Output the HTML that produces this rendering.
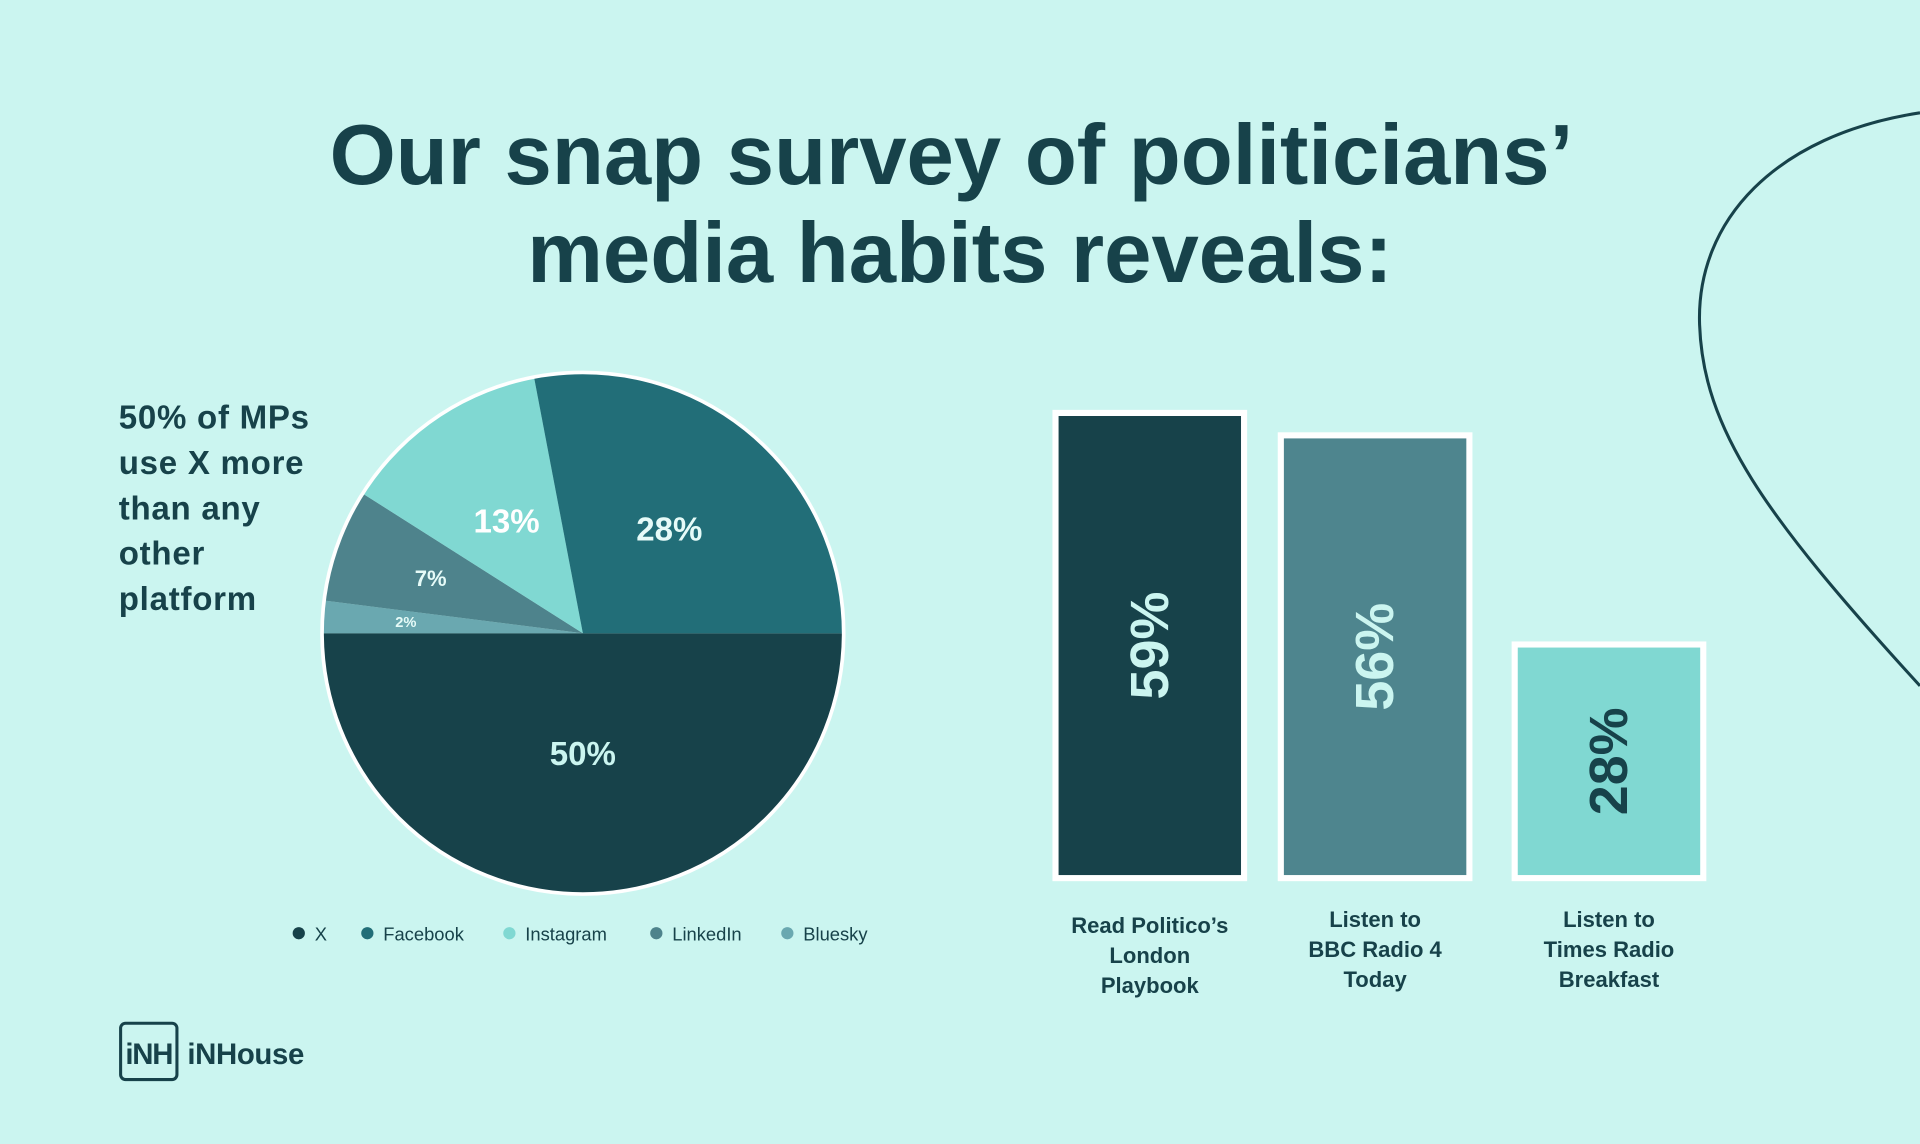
<!DOCTYPE html>
<html><head><meta charset="utf-8"><style>
html,body{margin:0;padding:0;background:#cbf5f0;}
svg{display:block;font-family:"Liberation Sans",sans-serif;}
</style></head><body>
<svg width="1920" height="1144" viewBox="0 0 1568 934">
<rect width="1568" height="934" fill="#cbf5f0"/>
<path d="M1568,92 C1450,110 1385,180 1388,265 C1391,350 1440,420 1568,560" fill="none" stroke="#17424a" stroke-width="2.5"/>
<g fill="#17424a" font-weight="bold" font-size="69.5" text-anchor="middle">
<text x="777" y="150">Our snap survey of politicians’</text>
<text x="784" y="230">media habits reveals:</text>
</g>
<g fill="#17424a" font-weight="bold" font-size="27" letter-spacing="0.6">
<text x="97" y="350">50% of MPs</text>
<text x="97" y="387">use X more</text>
<text x="97" y="424">than any</text>
<text x="97" y="461">other</text>
<text x="97" y="498">platform</text>
</g>
<g id="pie"></g>
<g id="legend"></g>
<g id="bars"></g>
<g>
<rect x="98.5" y="835.5" width="46" height="46" rx="4" fill="none" stroke="#17424a" stroke-width="2.5"/>
<text x="121.5" y="869" text-anchor="middle" font-size="24" font-weight="bold" fill="#17424a" letter-spacing="-1">iNH</text>
<text x="153" y="869" font-size="24" font-weight="bold" fill="#17424a" letter-spacing="-0.3">iNHouse</text>
</g>
</svg>
<script>
const pieLabels=["X","Bluesky","LinkedIn","Instagram","Facebook"];
const pieValues=[50,2,7,13,28];
const pieColors=["#17424a","#6aa8b0","#4e838c","#80d8d2","#226e78"];
const legendOrder=["X","Facebook","Instagram","LinkedIn","Bluesky"];
const barCategories=[["Read Politico’s","London","Playbook"],["Listen to","BBC Radio 4","Today"],["Listen to","Times Radio","Breakfast"]];
const barValues=[59,56,28];
const barColors=["#17424a","#4e858e","#80d8d2"];
const barTextColors=["#cbf5f0","#cbf5f0","#17424a"];
const NS="http://www.w3.org/2000/svg";
function mk(t,a,p){const e=document.createElementNS(NS,t);for(const k in a)e.setAttribute(k,a[k]);p.appendChild(e);return e;}
const cx=476,cy=517,r=213;
const pie=document.getElementById('pie');
const total=pieValues.reduce((a,b)=>a+b,0);
let ang=0;
const labelSizes=[27,12,18,27,27];
const labelRadii=[0.46,0.68,0.62,0.52,0.52];
pieValues.forEach((v,i)=>{
  const a0=ang/total*2*Math.PI, a1=(ang+v)/total*2*Math.PI; ang+=v;
  const large=(a1-a0)>Math.PI?1:0;
  const d=`M${cx},${cy} L${cx+r*Math.cos(a0)},${cy+r*Math.sin(a0)} A${r},${r} 0 ${large} 1 ${cx+r*Math.cos(a1)},${cy+r*Math.sin(a1)} Z`;
  const p=mk('path',{d:d,fill:pieColors[i]},pie);
  
  
  const am=(a0+a1)/2, lr=r*labelRadii[i];
  const t=mk('text',{x:cx+lr*Math.cos(am),y:cy+lr*Math.sin(am)+labelSizes[i]*0.35,'text-anchor':'middle','font-size':labelSizes[i],'font-weight':'bold',fill:i===0?'#cbf5f0':(i===3?'#ffffff':'#e6fbf8')},pie);
  t.textContent=v+'%';
  
  
});
const ring=mk('circle',{cx:cx,cy:cy,r:r,fill:'none',stroke:'#ffffff','stroke-width':3},pie);


const lg=document.getElementById('legend');
const lx=[244,300,416,536,643];
legendOrder.forEach((n,i)=>{
  const idx=pieLabels.indexOf(n);
  const g=mk('g',{},lg);
  
  
  mk('circle',{cx:lx[i],cy:762,r:5,fill:pieColors[idx]},g);
  const t=mk('text',{x:lx[i]+13,y:768,'font-size':15,fill:'#17424a'},g);
  t.textContent=n;
});
const bg=document.getElementById('bars');
const base=717, offset=20, scale=6.1, bw=154, bx=[862,1046,1237];
barValues.forEach((v,i)=>{
  const h=offset+v*scale, x=bx[i], y=base-h;
  const rc=mk('rect',{x:x,y:y,width:bw,height:h,fill:barColors[i],stroke:'#ffffff','stroke-width':5},bg);
  
  
  const tx=x+bw/2, ty=y+h/2;
  const t=mk('text',{x:tx,y:ty,transform:`rotate(-90 ${tx} ${ty})`,'text-anchor':'middle','dominant-baseline':'central','font-size':44,'font-weight':'bold',fill:barTextColors[i]},bg);
  t.textContent=v+'%';
  
  
  barCategories[i].forEach((line,j)=>{
    const c=mk('text',{x:tx,y:(i===0?762:757)+j*24.5,'text-anchor':'middle','font-size':18,'font-weight':'bold',fill:'#17424a'},bg);
    c.textContent=line;
    
    
  });
});
</script>
</body></html>
